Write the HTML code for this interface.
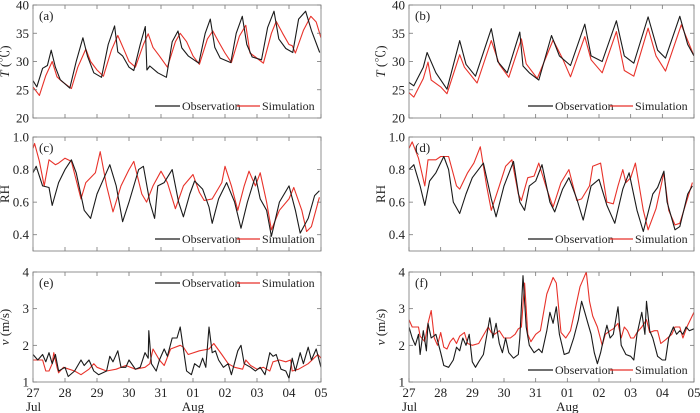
<!DOCTYPE html>
<html><head><meta charset="utf-8"><style>
body{margin:0;background:#fff}
svg{display:block;font-family:"Liberation Serif","Noto Serif CJK SC",serif}
</style></head><body>
<svg id="chart" width="700" height="413" viewBox="0 0 700 413" xmlns="http://www.w3.org/2000/svg"></svg>
<script>
// x values: days since 27 Jul 00:00
const dayLabels=["27","28","29","30","31","01","02","03","04","05"];
const tObsA=[0,0.12,0.3,0.45,0.57,0.7,0.85,1.15,1.35,1.56,1.7,1.9,2.14,2.35,2.55,2.65,2.8,3.0,3.15,3.35,3.51,3.56,3.65,3.9,4.17,4.35,4.53,4.65,4.85,5.18,5.38,5.54,5.68,5.85,6.18,6.35,6.54,6.68,6.85,7.14,7.33,7.53,7.68,7.9,8.12,8.3,8.52,8.7,8.96];
const vObsA=[26.6,25.5,28.8,29.3,32,29,26.8,25.3,30,34.2,31,28,27.2,33,36.3,31.7,31,29,28.4,33,36.2,28.5,29.2,28,27.2,33.5,35.4,32.4,31,29.7,35,37.5,32.5,30.6,29.8,35,38,33,30.8,30.3,36,38.9,34,32.3,31.6,37.5,38.9,35.5,31.6];
const tSimA=[0,0.2,0.4,0.6,0.75,0.9,1.2,1.4,1.65,1.8,2.0,2.2,2.45,2.65,2.85,3.0,3.2,3.45,3.6,3.75,3.95,4.2,4.45,4.6,4.8,5.0,5.2,5.45,5.62,5.8,6.0,6.2,6.45,6.65,6.78,6.95,7.2,7.45,7.6,7.8,8.0,8.1,8.2,8.45,8.68,8.85,9.0];
const vSimA=[25.5,24,27.5,30,27.3,26.5,25.2,29,32.2,30,28.5,27.4,32,34.6,32,30,29,33,34.9,32.5,31,29,33.5,35,33.5,31,29.5,34,35.4,33.5,31.5,29.8,34.5,36.4,31.5,30.8,29.7,35,37.1,35,33,32.8,31.5,35.5,38,37,34.2];
const tObsB=[0,0.15,0.45,0.57,0.85,1.2,1.6,1.8,2.1,2.6,2.8,3.1,3.5,3.6,3.8,4.1,4.5,4.75,5.1,5.55,5.75,6.1,6.55,6.8,7.1,7.55,7.85,8.1,8.55,8.8,9.0];
const vObsB=[26.3,25.7,29,31.6,28,25.1,33.7,29.5,27.4,35.8,30,28,35.2,29.2,28,26.7,34.6,31,29.3,36.6,31,30,37.2,31,29.7,37.9,32,30.6,38,33,31];
const tSimB=[0,0.15,0.45,0.6,0.7,1.0,1.2,1.6,1.75,2.15,2.6,2.85,3.15,3.55,3.7,4.05,4.55,4.85,5.1,5.55,5.75,6.1,6.55,6.8,7.1,7.55,7.8,8.1,8.6,9.0];
const vSimB=[24.5,23.7,27,29.9,26.7,25.5,24.3,31.2,29,26.2,33.7,29.5,27.2,34,29.6,27,33.8,30.5,27.3,34.4,30.3,28,35.3,28.4,27.4,35.9,31,28.3,36.5,31];
const tObsC=[0,0.1,0.3,0.5,0.6,0.8,1.0,1.2,1.35,1.6,1.8,2.0,2.2,2.4,2.6,2.8,3.0,3.3,3.45,3.65,3.8,3.9,4.1,4.35,4.55,4.7,4.9,5.05,5.3,5.5,5.6,5.8,6.05,6.3,6.5,6.7,6.95,7.1,7.3,7.45,7.7,8.0,8.2,8.35,8.6,8.8,8.95];
const vObsC=[0.78,0.82,0.70,0.69,0.58,0.72,0.80,0.86,0.78,0.55,0.50,0.65,0.74,0.83,0.70,0.48,0.60,0.80,0.82,0.60,0.50,0.70,0.72,0.80,0.60,0.51,0.65,0.73,0.68,0.57,0.47,0.62,0.72,0.60,0.44,0.60,0.76,0.62,0.55,0.39,0.60,0.70,0.55,0.41,0.50,0.64,0.67];
const tSimC=[0,0.05,0.2,0.35,0.5,0.7,0.8,1.0,1.2,1.5,1.65,1.95,2.1,2.3,2.5,2.75,3.0,3.15,3.4,3.55,3.75,4.0,4.2,4.45,4.7,5.0,5.2,5.35,5.6,5.9,6.0,6.2,6.4,6.6,6.75,6.95,7.1,7.3,7.45,7.7,8.0,8.15,8.4,8.55,8.7,8.95];
const vSimC=[0.93,0.96,0.85,0.70,0.86,0.83,0.84,0.87,0.85,0.62,0.72,0.78,0.91,0.70,0.54,0.70,0.80,0.85,0.65,0.60,0.70,0.79,0.72,0.56,0.70,0.77,0.66,0.61,0.62,0.72,0.82,0.70,0.55,0.70,0.79,0.70,0.78,0.60,0.43,0.55,0.62,0.69,0.55,0.42,0.45,0.63];
const tObsD=[0,0.15,0.35,0.5,0.65,0.85,1.1,1.25,1.4,1.6,1.8,2.0,2.35,2.6,2.75,3.0,3.3,3.5,3.65,3.8,4.0,4.2,4.45,4.6,4.85,5.05,5.3,5.5,5.75,6.0,6.25,6.5,6.75,6.95,7.2,7.4,7.7,7.85,8.05,8.15,8.4,8.55,8.8,8.95];
const vObsD=[0.80,0.83,0.70,0.58,0.73,0.78,0.88,0.80,0.60,0.53,0.65,0.75,0.84,0.62,0.51,0.70,0.85,0.60,0.55,0.70,0.73,0.83,0.60,0.54,0.68,0.75,0.62,0.49,0.70,0.74,0.58,0.47,0.68,0.78,0.55,0.42,0.65,0.69,0.79,0.60,0.43,0.45,0.65,0.70];
const tSimD=[0,0.1,0.3,0.5,0.6,0.85,1.0,1.25,1.5,1.6,1.85,2.05,2.25,2.45,2.6,2.85,3.05,3.25,3.45,3.55,3.75,3.95,4.1,4.35,4.55,4.8,5.05,5.3,5.45,5.7,5.8,6.05,6.25,6.45,6.6,6.75,6.85,7.0,7.15,7.4,7.55,7.8,8.05,8.2,8.4,8.55,8.95];
const vSimD=[0.93,0.97,0.87,0.70,0.86,0.86,0.88,0.88,0.70,0.68,0.78,0.84,0.94,0.70,0.55,0.70,0.82,0.86,0.65,0.61,0.75,0.76,0.84,0.68,0.57,0.72,0.80,0.61,0.62,0.70,0.82,0.84,0.60,0.59,0.70,0.80,0.72,0.75,0.84,0.55,0.43,0.56,0.78,0.55,0.46,0.47,0.72];
const tObsE=[0,0.15,0.3,0.4,0.5,0.6,0.7,0.8,1.0,1.1,1.3,1.5,1.6,1.75,1.9,2.05,2.3,2.4,2.5,2.65,2.75,2.9,3.0,3.2,3.35,3.5,3.6,3.62,3.7,3.85,3.95,4.1,4.2,4.35,4.5,4.6,4.7,4.8,4.95,5.05,5.2,5.3,5.4,5.5,5.6,5.7,5.8,5.95,6.1,6.2,6.4,6.5,6.6,6.8,6.95,7.1,7.25,7.4,7.5,7.6,7.75,7.9,8.0,8.1,8.2,8.35,8.45,8.6,8.7,8.85,9.0];
const vObsE=[1.75,1.6,1.75,1.55,1.8,1.5,1.75,1.3,1.4,1.15,1.3,1.6,1.45,1.6,1.3,1.2,1.3,1.7,1.55,1.85,1.4,1.4,1.6,1.35,1.4,1.8,1.65,2.4,1.5,1.3,1.6,1.9,1.7,2.2,2.2,2.5,1.9,1.3,1.2,1.5,1.4,1.65,1.4,2.5,1.8,1.85,1.6,1.4,1.5,1.2,1.85,2.0,1.5,1.4,1.3,1.4,1.2,1.8,1.7,1.75,1.35,1.3,1.1,1.65,1.3,1.8,1.5,1.95,1.6,1.9,1.4];
const tSimE=[0,0.3,0.4,0.5,0.6,0.65,0.75,0.8,0.95,1.3,1.5,1.75,1.9,2.0,2.3,2.6,2.9,3.2,3.5,3.65,3.75,3.95,4.1,4.3,4.6,4.7,4.85,5.2,5.5,5.65,5.9,6.1,6.3,6.55,6.65,6.8,7.0,7.2,7.4,7.5,7.7,7.9,8.05,8.1,8.3,8.6,8.9,9.0];
const vSimE=[1.6,1.6,1.3,1.3,1.5,1.8,1.4,1.25,1.4,1.3,1.2,1.35,1.5,1.4,1.3,1.35,1.45,1.35,1.4,1.5,1.9,1.6,1.45,1.9,2.0,1.95,1.75,1.85,1.9,2.05,1.75,1.5,1.4,1.35,1.6,1.45,1.35,1.4,1.3,1.55,1.6,1.55,1.6,1.3,1.35,1.5,1.75,1.65];
const tObsF=[0,0.1,0.2,0.3,0.35,0.45,0.55,0.6,0.7,0.85,1.0,1.1,1.25,1.4,1.5,1.6,1.7,1.8,1.9,2.0,2.1,2.2,2.35,2.45,2.55,2.65,2.75,2.85,2.95,3.05,3.15,3.3,3.45,3.5,3.6,3.7,3.8,3.95,4.1,4.2,4.35,4.45,4.55,4.65,4.75,4.9,5.05,5.2,5.35,5.45,5.55,5.65,5.75,5.85,5.95,6.05,6.15,6.25,6.35,6.45,6.6,6.7,6.85,7.0,7.1,7.2,7.35,7.45,7.5,7.6,7.7,7.85,8.0,8.1,8.2,8.35,8.45,8.55,8.65,8.75,8.85,9.0];
const vObsF=[2.5,2.2,2.0,2.3,1.75,2.4,1.85,2.6,2.2,2.3,1.8,1.45,1.4,1.6,1.95,1.85,2.2,2.0,2.3,1.55,1.4,1.55,1.75,2.25,2.75,2.2,2.6,2.05,1.8,2.2,1.8,1.65,1.75,2.2,3.9,2.5,2.0,1.8,1.9,1.8,2.4,2.9,2.6,3.05,2.3,1.75,1.8,2.2,2.7,3.2,2.9,2.6,2.3,1.8,1.5,1.8,2.2,2.55,2.2,2.3,3.05,2.0,1.75,1.7,1.6,2.3,2.9,2.3,3.2,2.4,2.2,1.7,1.6,1.6,2.2,2.5,2.3,2.4,2.3,2.5,2.4,2.45];
const tSimF=[0,0.1,0.3,0.35,0.5,0.6,0.7,0.8,0.9,1.0,1.1,1.2,1.3,1.4,1.5,1.6,1.75,1.85,2.0,2.2,2.4,2.5,2.6,2.7,2.85,3.0,3.2,3.35,3.45,3.55,3.65,3.75,3.85,4.0,4.15,4.35,4.55,4.65,4.8,4.95,5.1,5.25,5.4,5.5,5.6,5.7,5.8,5.95,6.1,6.2,6.35,6.45,6.6,6.7,6.8,6.9,7.0,7.1,7.2,7.35,7.5,7.6,7.75,7.85,7.95,8.1,8.3,8.4,8.55,8.65,8.8,9.0];
const vSimF=[2.7,2.5,2.5,2.25,2.1,2.6,2.95,2.2,2.0,2.35,1.95,1.9,2.1,2.2,2.05,2.25,2.35,2.05,2.0,2.05,2.35,2.5,2.35,2.3,2.4,2.2,2.2,2.3,2.45,2.5,3.7,2.3,2.1,2.3,2.4,3.4,3.85,3.7,2.35,2.2,2.4,3.0,3.6,3.8,4.0,3.2,2.8,2.5,2.0,2.3,2.4,2.45,2.6,2.2,2.5,2.4,2.2,2.2,2.35,2.5,2.7,2.35,2.4,2.4,2.05,2.15,2.3,2.5,2.5,2.2,2.55,2.9];

const svg=document.getElementById('chart');
const NS='http://www.w3.org/2000/svg';
function mk(tag,attrs,parent){const e=document.createElementNS(NS,tag);for(const k in attrs)e.setAttribute(k,attrs[k]);(parent||svg).appendChild(e);return e;}

const panels=[
 {id:'a',x0:33,x1:321,y0:5,y1:118,min:20,max:40,ticks:[20,25,30,35,40],fmt:v=>v,ylab:'T',unit:' (℃)',to:tObsA,vo:vObsA,ts:tSimA,vs:vSimA,leg:'bottom'},
 {id:'b',x0:409,x1:694,y0:5,y1:118,min:20,max:40,ticks:[20,25,30,35,40],fmt:v=>v,ylab:'T',unit:' (℃)',to:tObsB,vo:vObsB,ts:tSimB,vs:vSimB,leg:'bottom'},
 {id:'c',x0:33,x1:321,y0:137,y1:251,min:0.3,max:1.0,ticks:[0.4,0.6,0.8,1.0],fmt:v=>v.toFixed(1),ylab:'',unit:'RH',to:tObsC,vo:vObsC,ts:tSimC,vs:vSimC,leg:'bottom'},
 {id:'d',x0:409,x1:694,y0:137,y1:251,min:0.3,max:1.0,ticks:[0.4,0.6,0.8,1.0],fmt:v=>v.toFixed(1),ylab:'',unit:'RH',to:tObsD,vo:vObsD,ts:tSimD,vs:vSimD,leg:'bottom'},
 {id:'e',x0:33,x1:321,y0:272,y1:382,min:1,max:4,ticks:[1,2,3,4],fmt:v=>v,ylab:'v',unit:' (m/s)',to:tObsE,vo:vObsE,ts:tSimE,vs:vSimE,leg:'top'},
 {id:'f',x0:409,x1:694,y0:272,y1:382,min:1,max:4,ticks:[1,2,3,4],fmt:v=>v,ylab:'v',unit:' (m/s)',to:tObsF,vo:vObsF,ts:tSimF,vs:vSimF,leg:'bottom'}
];

panels.forEach(p=>{
 const g=mk('g',{});
 
 
 const xs=t=>p.x0+(p.x1-p.x0)*t/9;
 const ys=v=>p.y1-(p.y1-p.y0)*(v-p.min)/(p.max-p.min);
 const clipId='clip'+p.id;
 const cp=mk('clipPath',{id:clipId},g);mk('rect',{x:p.x0,y:p.y0,width:p.x1-p.x0,height:p.y1-p.y0},cp);
 // series
 const line=(ts,vs,col,name)=>{
  const pl=mk('polyline',{points:ts.map((t,i)=>xs(t).toFixed(1)+','+ys(vs[i]).toFixed(1)).join(' '),fill:'none',stroke:col,'stroke-width':1.1,'stroke-linejoin':'round','clip-path':'url(#'+clipId+')'},g);
  
  
 };
 line(p.ts,p.vs,'#e8322a','simulation-line-'+p.id);
 line(p.to,p.vo,'#1a1a1a','observation-line-'+p.id);
 // frame
 const fr=mk('rect',{x:p.x0,y:p.y0,width:p.x1-p.x0,height:p.y1-p.y0,fill:'none',stroke:'#777','stroke-width':0.8},g);
 
 
 // x ticks
 for(let i=0;i<=9;i++){const x=xs(i);
  mk('line',{x1:x,x2:x,y1:p.y1,y2:p.y1-4,stroke:'#777','stroke-width':0.8},g);
  mk('line',{x1:x,x2:x,y1:p.y0,y2:p.y0+4,stroke:'#777','stroke-width':0.8},g);
 }
 // y ticks
 p.ticks.forEach(v=>{const y=ys(v);
  mk('line',{x1:p.x0,x2:p.x0+4,y1:y,y2:y,stroke:'#777','stroke-width':0.8},g);
  mk('line',{x1:p.x1,x2:p.x1-4,y1:y,y2:y,stroke:'#777','stroke-width':0.8},g);
  const tl=mk('text',{x:p.x0-4,y:y+4.5,'text-anchor':'end','font-size':13,fill:'#222'},g);
  tl.textContent=p.fmt(v);
  
  
 });
 // y label
 const lx=p.x0-24, ly=(p.y0+p.y1)/2;
 const yl=mk('text',{x:lx,y:ly,'text-anchor':'middle','font-size':13,fill:'#222',transform:'rotate(-90 '+lx+' '+ly+')'},g);
 
 
 if(p.ylab){const ts=mk('tspan',{'font-style':'italic'},yl);ts.textContent=p.ylab;}
 const ts2=mk('tspan',{},yl);ts2.textContent=p.unit;
 // panel letter
 const pl=mk('text',{x:p.x0+6,y:p.y0+15,'font-size':13,fill:'#222'},g);
 pl.textContent='('+p.id+')';
 
 
 // legend
 const legY=p.leg==='top'?p.y0+11:p.y1-12;
 const lg=mk('g',{},g);
 
 
 const bx=p.x1-166;
 mk('line',{x1:bx,x2:bx+25,y1:legY,y2:legY,stroke:'#1a1a1a','stroke-width':1.2},lg);
 const t1=mk('text',{x:bx+27,y:legY+4,'font-size':12,fill:'#222'},lg);t1.textContent='Observation';
 
 
 mk('line',{x1:bx+82,x2:bx+105,y1:legY,y2:legY,stroke:'#e8322a','stroke-width':1.2},lg);
 const t2=mk('text',{x:bx+107,y:legY+4,'font-size':12,fill:'#222'},lg);t2.textContent='Simulation';
 
 
 // x tick labels on bottom row
 if(p.id==='e'||p.id==='f'){
  dayLabels.forEach((d,i)=>{const t=mk('text',{x:xs(i),y:p.y1+15,'text-anchor':'middle','font-size':13,fill:'#222'},g);t.textContent=d;
   
   });
  const j=mk('text',{x:xs(0)-7,y:p.y1+29,'font-size':13,fill:'#222'},g);j.textContent='Jul';
  
  
  const a=mk('text',{x:xs(5),y:p.y1+29,'text-anchor':'middle','font-size':13,fill:'#222'},g);a.textContent='Aug';
  
  
 }
});
</script>
</body></html>
